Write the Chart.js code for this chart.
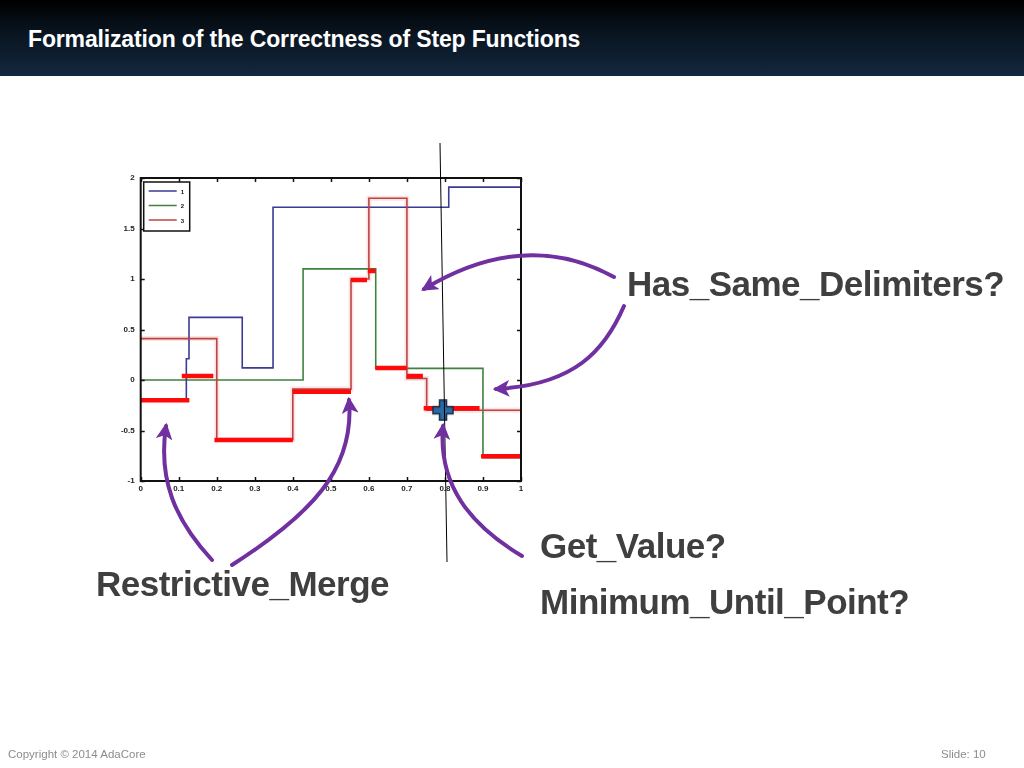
<!DOCTYPE html>
<html>
<head>
<meta charset="utf-8">
<script src="https://cdn.jsdelivr.net/npm/chart.js@4.4.1/dist/chart.umd.min.js"></script>
<style>
  html, body { margin: 0; padding: 0; background: #fff; }
  body { width: 1024px; height: 768px; position: relative; overflow: hidden; font-family: "Liberation Sans", Arial, sans-serif; }
  #header { position: absolute; left: 0; top: 0; width: 1024px; height: 76px;
            background: linear-gradient(to bottom, #000000 0%, #07111b 35%, #13283f 100%); }
  #header h1 { position: absolute; left: 28px; top: 28px; margin: 0; color: #fff; font-size: 23px; line-height: 23px; font-weight: bold; letter-spacing: -0.15px; }
  #plot { position: absolute; left: 0; top: 0; }
  #overlay { position: absolute; left: 0; top: 0; }
  .lbl { position: absolute; color: #3f3f3f; font-weight: bold; font-size: 35px; line-height: 35px; letter-spacing: -0.5px; white-space: nowrap; }
  .foot { position: absolute; top: 748px; color: #8c8c8c; font-size: 11.5px; }
</style>
</head>
<body>
<div id="header"><h1>Formalization of the Correctness of Step Functions</h1></div>
<canvas id="plot" width="1024" height="768"></canvas>
<svg id="overlay" width="1024" height="768" viewBox="0 0 1024 768">
  <defs>
    <marker id="head" viewBox="0 0 10 10" refX="8" refY="5" markerWidth="4.2" markerHeight="4.2" orient="auto">
      <path d="M0,0 L10,5 L0,10 L2.5,5 Z" fill="#7030a0"/>
    </marker>
  </defs>
  <!-- probe line through x = 0.8 -->
  <line x1="440" y1="143" x2="447" y2="562" stroke="#000" stroke-width="1"/>
  <g fill="none" stroke="#7030a0" stroke-width="4" stroke-linecap="round" marker-end="url(#head)">
    <path d="M614,277 Q525,228 424,289"/>
    <path d="M624,306 C605,350 575,385 496,389"/>
    <path d="M212,560 C175,520 158,480 166,426"/>
    <path d="M232,565 C310,515 355,470 349,400"/>
    <path d="M522,556 C470,525 438,485 443,426"/>
  </g>
</svg>
<div class="lbl" style="left:627px; top:266px;">Has_Same_Delimiters?</div>
<div class="lbl" style="left:96px; top:566px;">Restrictive_Merge</div>
<div class="lbl" style="left:540px; top:528px;">Get_Value?</div>
<div class="lbl" style="left:540px; top:584px;">Minimum_Until_Point?</div>
<div class="foot" style="left:8px;">Copyright © 2014 AdaCore</div>
<div class="foot" style="left:941px;">Slide: 10</div>

<script>
// step functions: breakpoints and the value held on each interval
const blueX = [0, 0.12, 0.127, 0.267, 0.348, 0.81, 1];
const blueY = [-0.2, 0.21, 0.62, 0.12, 1.71, 1.91];
const greenX = [0, 0.427, 0.618, 0.90, 1];
const greenY = [0, 1.1, 0.115, -0.77];
const redX = [0, 0.2, 0.4, 0.553, 0.6, 0.7, 0.752, 1];
const redY = [0.41, -0.59, -0.09, 1.0, 1.8, 0.015, -0.3];

// restrictive merge result (thick red pieces)
const mergeStart = [0, 0.108, 0.194, 0.40, 0.553, 0.597, 0.617, 0.70, 0.744, 0.895];
const mergeEnd = [0.128, 0.191, 0.40, 0.553, 0.595, 0.618, 0.70, 0.742, 0.891, 0.998];
const mergeY = [-0.2, 0.04, -0.594, -0.116, 0.99, 1.08, 0.12, 0.04, -0.28, -0.755];

// queried point
const probeX = [0.795];
const probeY = [-0.3];

const legendNames = ['1', '2', '3'];
const xTickLabels = ['0', '0.1', '0.2', '0.3', '0.4', '0.5', '0.6', '0.7', '0.8', '0.9', '1'];
const yTickLabels = ['-1', '-0.5', '0', '0.5', '1', '1.5', '2'];

function stepPoints(xs, ys) {
    const pts = ys.map((y, i) => ({ x: xs[i], y: y }));
    pts.push({ x: xs[xs.length - 1], y: ys[ys.length - 1] });
    return pts;
}

function barPoints() {
    const pts = [];
    mergeY.forEach((y, i) => {
        pts.push({ x: mergeStart[i], y: y });
        pts.push({ x: mergeEnd[i], y: y });
        pts.push({ x: mergeEnd[i], y: null });
    });
    return pts;
}

// blue plus marker
function plusIcon() {
    const c = document.createElement('canvas');
    c.width = 22; c.height = 22;
    const g = c.getContext('2d');
    const a = 3.5, o = 10, m = 11;
    g.beginPath();
    g.moveTo(m - a, m - o); g.lineTo(m + a, m - o); g.lineTo(m + a, m - a);
    g.lineTo(m + o, m - a); g.lineTo(m + o, m + a); g.lineTo(m + a, m + a);
    g.lineTo(m + a, m + o); g.lineTo(m - a, m + o); g.lineTo(m - a, m + a);
    g.lineTo(m - o, m + a); g.lineTo(m - o, m - a); g.lineTo(m - a, m - a);
    g.closePath();
    g.fillStyle = '#2c6aa3';
    g.fill();
    g.lineWidth = 1.5;
    g.strokeStyle = '#1b2b45';
    g.stroke();
    return c;
}

const seriesColors = ['#3b3b91', '#3f813f', '#b94646'];

// box, inward ticks on every side, and the small legend in the corner
const framePlugin = {
    id: 'frame',
    afterDraw(chart) {
        const { ctx, chartArea: a, scales } = chart;
        ctx.save();
        ctx.strokeStyle = '#111';
        ctx.lineWidth = 1.5;
        const len = 4;
        ctx.beginPath();
        scales.x.ticks.forEach(t => {
            const px = Math.round(scales.x.getPixelForValue(t.value)) + 0.5;
            ctx.moveTo(px, a.bottom); ctx.lineTo(px, a.bottom - len);
            ctx.moveTo(px, a.top); ctx.lineTo(px, a.top + len);
        });
        scales.y.ticks.forEach(t => {
            const py = Math.round(scales.y.getPixelForValue(t.value)) + 0.5;
            ctx.moveTo(a.left, py); ctx.lineTo(a.left + len, py);
            ctx.moveTo(a.right, py); ctx.lineTo(a.right - len, py);
        });
        ctx.stroke();
        ctx.lineWidth = 2;
        ctx.strokeRect(a.left, a.top, a.right - a.left, a.bottom - a.top);

        // legend
        const lx = a.left + 3, ly = a.top + 4;
        ctx.fillStyle = '#fff';
        ctx.fillRect(lx, ly, 46, 49);
        ctx.lineWidth = 1.5;
        ctx.strokeRect(lx, ly, 46, 49);
        ctx.font = 'bold 6px "Liberation Sans", Arial, sans-serif';
        ctx.textBaseline = 'middle';
        legendNames.forEach((n, i) => {
            const yy = ly + 9 + i * 14.5;
            ctx.strokeStyle = seriesColors[i];
            ctx.beginPath();
            ctx.moveTo(lx + 5, yy); ctx.lineTo(lx + 33, yy);
            ctx.stroke();
            ctx.fillStyle = '#111';
            ctx.fillText(n, lx + 37, yy + 1);
        });
        ctx.restore();
    }
};

const tickFont = { size: 8, weight: 'bold', family: '"Liberation Sans", Arial, sans-serif' };

new Chart(document.getElementById('plot'), {
    type: 'line',
    data: {
        datasets: [
            { label: 'probe', data: probeX.map((x, i) => ({ x: x, y: probeY[i] })), showLine: false,
              pointStyle: plusIcon(), pointRadius: 10, order: 0 },
            { label: 'merge', data: barPoints(), borderColor: '#ff0a0a', borderWidth: 4.5,
              borderCapStyle: 'butt', spanGaps: false, pointRadius: 0, order: 1 },
            { label: legendNames[0], data: stepPoints(blueX, blueY), borderColor: seriesColors[0],
              borderWidth: 1.6, stepped: 'before', pointRadius: 0, order: 3 },
            { label: legendNames[1], data: stepPoints(greenX, greenY), borderColor: seriesColors[1],
              borderWidth: 1.6, stepped: 'before', pointRadius: 0, order: 4 },
            { label: legendNames[2], data: stepPoints(redX, redY), borderColor: seriesColors[2],
              borderWidth: 1.6, stepped: 'before', pointRadius: 0, order: 2 },
            // soft pink glow around the red line, as in the scanned figure
            { label: 'glow', data: stepPoints(redX, redY), borderColor: 'rgba(255,140,140,0.25)',
              borderWidth: 5, stepped: 'before', pointRadius: 0, order: 5 }
        ]
    },
    options: {
        responsive: false,
        animation: false,
        events: [],
        layout: { padding: { left: 112.7, top: 178, right: 503, bottom: 270 } },
        plugins: { legend: { display: false }, tooltip: { enabled: false }, title: { display: false } },
        scales: {
            x: {
                type: 'linear', min: 0, max: 1,
                grid: { display: false, drawTicks: false },
                border: { display: false },
                ticks: { stepSize: 0.1, padding: 3, maxRotation: 0, autoSkip: false, color: '#222',
                         font: tickFont, callback: (v, i) => xTickLabels[i] },
                afterFit: s => { s.height = 17; }
            },
            y: {
                type: 'linear', min: -1, max: 2,
                grid: { display: false, drawTicks: false },
                border: { display: false },
                ticks: { stepSize: 0.5, padding: 6, autoSkip: false, color: '#222',
                         font: tickFont, callback: (v, i) => yTickLabels[i] },
                afterFit: s => { s.width = 28; }
            }
        }
    },
    plugins: [framePlugin]
});
</script>
</body>
</html>
